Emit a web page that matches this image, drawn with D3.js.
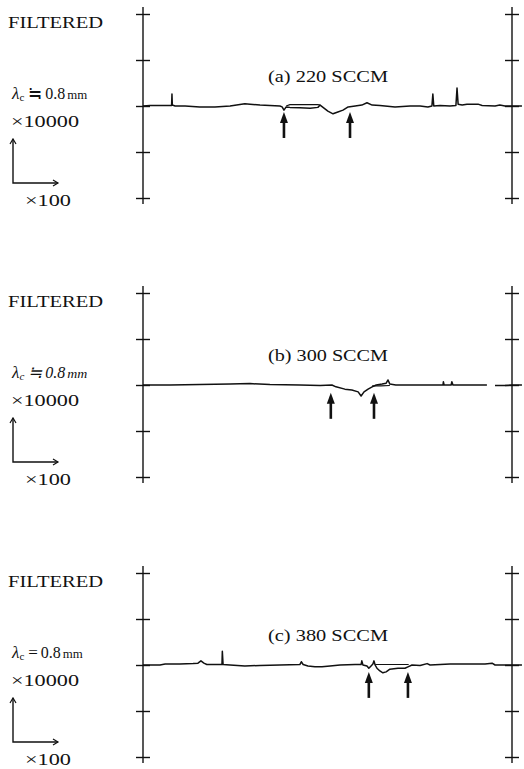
<!DOCTYPE html>
<html><head><meta charset="utf-8">
<script src="https://cdn.jsdelivr.net/npm/d3@7"></script>
<style>body{margin:0;background:#fff}svg{display:block}</style>
</head><body><svg id="chart" width="524" height="769"></svg>
<script>
// ---- data (x: 0–100 across the frame, y: vertical profile units, ticks every 10) ----
const panelLabels = ["(a)  220 SCCM", "(b)  300 SCCM", "(c)  380 SCCM"];
const filterLabel = "FILTERED";
const cutoffLabel = "0.8";
const approxSigns = ["≒", "≒", "="];
const vertMagLabel = "×10000";
const horizMagLabel = "×100";
const yTicks = [-20, -10, 0, 10, 20];

const profileA = [[0,0],[1.9,0.1],[4.6,0.1],[7.3,0.1],[7.75,0.1],[7.85,2.6],[7.95,0.2],[8.7,0],[11.4,0],[15.4,-0.2],[19.5,-0.2],[23.6,0],[27.6,0.5],[29.0,0.4],[31.7,0.2],[34.4,0.1],[37.1,0],[37.7,-0.2],[38.2,-0.9],[38.8,-0.2],[39.8,-0.3],[42.5,-0.4],[45.3,-0.5],[47.4,-0.3],[48.0,0.2],[50.1,-1.1],[51.5,-1.7],[52.8,-1.3],[54.2,-0.9],[55.6,-0.2],[57.5,0],[59.3,0.2],[60.7,0.7],[62.1,0.2],[64.2,0.1],[68.3,-0.2],[72.4,0],[75.1,0],[77.2,-0.2],[78.3,0],[78.55,2.6],[78.8,0],[80.5,0.1],[83.2,0],[84.8,0.1],[85.1,3.9],[85.4,0.4],[86.5,0.2],[87.8,0.4],[90.8,0.4],[91.9,0.1],[95.4,0],[96.7,0.2],[98.1,0],[100,0],[102.7,0]];
const overlayA = [[38.8,0],[39.8,0.3],[47.4,0.3],[48.0,0.2]];

const profileB = [[0,0],[7.3,0],[15.4,0.1],[23.6,0.2],[29.0,0.3],[34.4,0.1],[42.5,0],[48.0,-0.1],[51.2,0],[52.3,-0.4],[54.7,-0.9],[56.6,-1.1],[58.3,-1.5],[59.1,-2.4],[59.9,-1.5],[61.0,-0.9],[62.1,-0.4],[63.2,0],[64.8,0.2],[65.9,0.4],[66.4,1.1],[66.9,0.2],[68.5,0],[75.1,0],[81.3,0],[81.4,0.7],[81.6,0],[83.5,0],[83.7,0.7],[84.0,0],[88.6,0],[93.2,0],[null,null],[95.4,-0.1],[98.1,-0.1],[100,0],[102.7,0]];
const overlayB = [[62.1,-0.2],[64.5,-0.2],[66.9,-0.1]];

const profileC = [[0,0],[4.6,0],[6.0,0.2],[10.0,0.2],[13.6,0.3],[14.9,0.4],[15.7,0.9],[16.5,0.4],[17.3,0.1],[19.5,0.1],[21.4,0.1],[21.5,3.0],[21.7,0.1],[23.6,0],[27.6,-0.2],[31.7,-0.1],[37.1,0],[42.5,0.1],[42.9,0.7],[43.4,0.1],[44.7,-0.2],[46.6,-0.4],[48.5,-0.4],[50.7,-0.2],[53.4,0],[57.5,0.1],[59.1,0.1],[59.3,0.9],[59.6,0],[60.7,-0.2],[61.2,-0.7],[61.8,-0.2],[62.3,0.2],[62.6,0.9],[62.9,0],[63.4,-0.7],[64.2,-1.3],[65.0,-1.7],[65.9,-1.5],[66.9,-0.9],[69.1,-0.7],[71.0,-0.7],[71.8,-0.4],[72.9,0],[75.1,-0.1],[77.0,0.3],[77.8,0],[83.2,0.2],[90.0,0.2],[92.7,0.2],[94.6,0.4],[95.4,0],[98.1,0],[100,0],[102.7,0]];
const overlayC = [[62.9,0.1],[72.0,0.1]];

const arrowsA = [38.2, 56.1];
const arrowsB = [50.9, 62.6];
const arrowsC = [61.2, 71.8];
const arrowTipsA = -1.3, arrowTipsB = -1.7, arrowTipsC = -1.5;

// ---- drawing ----
const panels = [
  {label: panelLabels[0], profile: profileA, overlay: overlayA, arrows: arrowsA, tip: arrowTipsA, italic: false},
  {label: panelLabels[1], profile: profileB, overlay: overlayB, arrows: arrowsB, tip: arrowTipsB, italic: true},
  {label: panelLabels[2], profile: profileC, overlay: overlayC, arrows: arrowsC, tip: arrowTipsC, italic: false}
];
const zeroY = [106, 385, 665];
const svg = d3.select("#chart");
const x = d3.scaleLinear().domain([0, 100]).range([143, 512]);
const font = "'Liberation Serif','Times New Roman',serif";

panels.forEach((p, i) => {
  const z = zeroY[i];
  const y = d3.scaleLinear().domain([-20, 20]).range([z + 92, z - 92]);
  const g = svg.append("g");

  // left and right frame axes with crossing ticks
  [[d3.axisLeft(y), x(0)], [d3.axisRight(y), x(100)]].forEach(([ax, xp]) => {
    const a = g.append("g").attr("transform", `translate(${xp},0)`)
      .call(ax.tickValues(yTicks).tickFormat("").tickSizeOuter(0));
    a.select(".domain").remove();
    a.selectAll(".tick line").attr("x1", -7).attr("x2", 7)
      .attr("stroke", "#111").attr("stroke-width", 1.4);
    a.append("line").attr("x1", 0).attr("x2", 0)
      .attr("y1", y(20) - 7).attr("y2", y(-20) + 6)
      .attr("stroke", "#111").attr("stroke-width", 1.4);
  });

  // profile trace
  const line = d3.line().defined(d => d[0] !== null)
    .x(d => x(d[0])).y(d => y(d[1]));
  g.append("path").datum(p.profile).attr("d", line)
    .attr("fill", "none").attr("stroke", "#111").attr("stroke-width", 1.5)
    .attr("stroke-linejoin", "round");
  g.append("path").datum(p.overlay).attr("d", line)
    .attr("fill", "none").attr("stroke", "#111").attr("stroke-width", 1.1);

  // defect markers (filled up-arrows)
  p.arrows.forEach(ax => {
    const cx = x(ax), ty = y(p.tip);
    g.append("path")
      .attr("d", `M${cx},${ty} L${cx - 4},${ty + 11} L${cx + 4},${ty + 11} Z`)
      .attr("fill", "#111");
    g.append("rect").attr("x", cx - 1.3).attr("y", ty + 9)
      .attr("width", 2.6).attr("height", 17).attr("fill", "#111");
  });

  // panel title
  g.append("text").attr("x", 268).attr("y", z - 24)
    .attr("font-family", font).attr("font-size", 16.5)
    .attr("textLength", 120).attr("lengthAdjust", "spacingAndGlyphs")
    .attr("fill", "#111").text(p.label);

  // left annotation block
  g.append("text").attr("x", 8).attr("y", z - 78)
    .attr("font-family", font).attr("font-size", 17)
    .attr("textLength", 95).attr("lengthAdjust", "spacingAndGlyphs")
    .attr("fill", "#111").text(filterLabel);

  const lam = g.append("text").attr("x", 12).attr("y", z - 7)
    .attr("font-family", font).attr("font-size", 15).attr("fill", "#111")
    .attr("font-style", p.italic ? "italic" : "normal");
  lam.append("tspan").attr("font-style", "italic").attr("font-size", 17).text("λ");
  lam.append("tspan").attr("font-size", 11).attr("dy", 2).text("c");
  lam.append("tspan").attr("dy", -2).attr("dx", 4).attr("font-size", 17).text(approxSigns[i]);
  lam.append("tspan").attr("dx", 3).attr("font-size", 16).text(cutoffLabel);
  lam.append("tspan").attr("dx", 2).attr("font-size", 13).attr("textLength", 20)
    .attr("lengthAdjust", "spacingAndGlyphs").text("mm");

  g.append("text").attr("x", 11).attr("y", z + 21)
    .attr("font-family", font).attr("font-size", 17)
    .attr("textLength", 68).attr("lengthAdjust", "spacingAndGlyphs")
    .attr("fill", "#111").text(vertMagLabel);

  // L-shaped scale arrows
  const top = z + 33, corner = z + 77;
  g.append("path")
    .attr("d", `M13,${top} L13,${corner} L58,${corner}`)
    .attr("fill", "none").attr("stroke", "#111").attr("stroke-width", 1.4);
  g.append("path")
    .attr("d", `M10,${top + 5} L13,${top} L16,${top + 5} M53,${corner - 3} L58,${corner} L53,${corner + 3}`)
    .attr("fill", "none").attr("stroke", "#111").attr("stroke-width", 1.2);

  g.append("text").attr("x", 25).attr("y", z + 100)
    .attr("font-family", font).attr("font-size", 17)
    .attr("textLength", 46).attr("lengthAdjust", "spacingAndGlyphs")
    .attr("fill", "#111").text(horizMagLabel);
});
</script>
</body></html>
